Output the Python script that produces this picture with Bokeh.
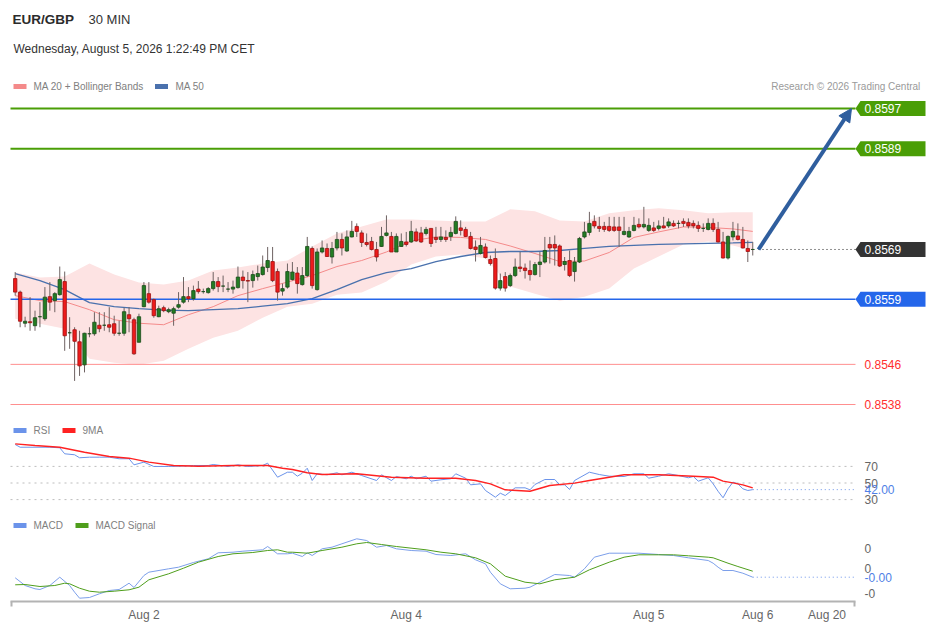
from bokeh.plotting import figure
from bokeh.models import Range1d, FixedTicker, Label, Arrow, NormalHead, ColumnDataSource
from bokeh.core.properties import value
from bokeh.embed import file_html
from bokeh.resources import INLINE

FONT = "Liberation Sans"

# ---------------- texts ----------------
symbol = "EUR/GBP"
timeframe = "30 MIN"
timestamp = "Wednesday, August 5, 2026 1:22:49 PM CET"
credit = "Research \u00a9 2026 Trading Central"

# ---------------- candles (30 min) ----------------
opens = [0.85631,0.85604,0.85542,0.85545,0.85537,0.85555,0.85551,0.85595,0.85587,0.85599,
         0.85625,0.85523,0.85529,0.85505,0.85459,0.85521,0.85521,0.85538,0.85538,0.85539,
         0.85541,0.85522,0.85522,0.85559,0.85549,0.85504,0.85575,0.85601,0.85589,0.85555,
         0.85573,0.85565,0.85562,0.85574,0.85584,0.85595,0.85591,0.85610,0.85605,0.85603,
         0.85611,0.85625,0.85616,0.85610,0.85610,0.85613,0.85634,0.85627,0.85627,0.85635,
         0.85639,0.85653,0.85665,0.85645,0.85606,0.85614,0.85629,0.85642,0.85619,0.85637,
         0.85691,0.85609,0.85684,0.85691,0.85674,0.85692,0.85709,0.85686,0.85714,0.85735,
         0.85722,0.85703,0.85705,0.85689,0.85695,0.85717,0.85715,0.85684,0.85695,0.85704,
         0.85704,0.85724,0.85722,0.85721,0.85731,0.85713,0.85709,0.85713,0.85715,0.85721,
         0.85732,0.85729,0.85715,0.85694,0.85681,0.85694,0.85669,0.85671,0.85612,0.85635,
         0.85617,0.85637,0.85654,0.85652,0.85647,0.85639,0.85659,0.85664,0.85699,0.85699,
         0.85696,0.85659,0.85667,0.85645,0.85664,0.85714,0.85723,0.85745,0.85735,0.85735,
         0.85735,0.85734,0.85734,0.85719,0.85714,0.85727,0.85739,0.85734,0.85727,0.85732,
         0.85731,0.85736,0.85736,0.85741,0.85741,0.85745,0.85743,0.85741,0.85737,0.85731,
         0.85729,0.85741,0.85729,0.85704,0.85672,0.85714,0.85716,0.85709,0.85691,0.85689]
highs = [0.85644,0.85607,0.85555,0.85594,0.85567,0.85584,0.85614,0.85624,0.85604,0.85655,
         0.85645,0.85554,0.85534,0.85527,0.85523,0.85534,0.85564,0.85564,0.85564,0.85574,
         0.85557,0.85547,0.85573,0.85574,0.85553,0.85561,0.85624,0.85624,0.85591,0.85577,
         0.85577,0.85573,0.85575,0.85604,0.85634,0.85614,0.85617,0.85626,0.85611,0.85614,
         0.85644,0.85634,0.85637,0.85624,0.85627,0.85655,0.85647,0.85644,0.85647,0.85657,
         0.85677,0.85694,0.85694,0.85651,0.85621,0.85661,0.85664,0.85654,0.85654,0.85714,
         0.85695,0.85691,0.85707,0.85701,0.85704,0.85724,0.85721,0.85727,0.85746,0.85741,
         0.85727,0.85721,0.85714,0.85704,0.85734,0.85757,0.85724,0.85721,0.85721,0.85724,
         0.85746,0.85731,0.85734,0.85734,0.85731,0.85734,0.85734,0.85727,0.85734,0.85755,
         0.85747,0.85734,0.85724,0.85707,0.85714,0.85701,0.85677,0.85691,0.85641,0.85644,
         0.85641,0.85671,0.85684,0.85661,0.85667,0.85664,0.85684,0.85714,0.85714,0.85717,
         0.85699,0.85674,0.85687,0.85674,0.85714,0.85744,0.85764,0.85757,0.85754,0.85744,
         0.85754,0.85754,0.85754,0.85754,0.85734,0.85754,0.85751,0.85774,0.85751,0.85744,
         0.85747,0.85754,0.85751,0.85747,0.85747,0.85751,0.85751,0.85747,0.85745,0.85741,
         0.85751,0.85751,0.85744,0.85724,0.85717,0.85744,0.85741,0.85734,0.85707,0.85704]
lows = [0.85597,0.85534,0.85534,0.85527,0.85527,0.85534,0.85547,0.85567,0.85564,0.85597,
        0.85487,0.85491,0.85427,0.85437,0.85444,0.85514,0.85517,0.85524,0.85527,0.85524,
        0.85517,0.85517,0.85517,0.85524,0.85479,0.85504,0.85574,0.85581,0.85553,0.85554,
        0.85564,0.85562,0.85537,0.85571,0.85581,0.85584,0.85587,0.85601,0.85601,0.85601,
        0.85607,0.85604,0.85604,0.85604,0.85601,0.85611,0.85611,0.85584,0.85613,0.85627,
        0.85637,0.85644,0.85624,0.85587,0.85597,0.85611,0.85627,0.85601,0.85617,0.85634,
        0.85611,0.85607,0.85681,0.85674,0.85661,0.85687,0.85677,0.85684,0.85713,0.85714,
        0.85694,0.85695,0.85687,0.85665,0.85694,0.85715,0.85684,0.85684,0.85694,0.85695,
        0.85702,0.85704,0.85702,0.85717,0.85694,0.85702,0.85704,0.85704,0.85706,0.85719,
        0.85717,0.85714,0.85689,0.85665,0.85679,0.85671,0.85657,0.85609,0.85607,0.85605,
        0.85614,0.85634,0.85644,0.85631,0.85627,0.85637,0.85634,0.85661,0.85661,0.85657,
        0.85654,0.85647,0.85634,0.85625,0.85662,0.85711,0.85717,0.85731,0.85724,0.85724,
        0.85724,0.85724,0.85694,0.85717,0.85712,0.85725,0.85731,0.85731,0.85724,0.85724,
        0.85727,0.85731,0.85732,0.85734,0.85731,0.85734,0.85731,0.85731,0.85724,0.85724,
        0.85727,0.85724,0.85703,0.85671,0.85669,0.85707,0.85707,0.85691,0.85664,0.85677]
closes = [0.85604,0.85546,0.85546,0.85543,0.85553,0.85555,0.85594,0.85584,0.85601,0.85629,
          0.85517,0.85523,0.85506,0.85457,0.85522,0.85521,0.85544,0.85531,0.85538,0.85534,
          0.85522,0.85522,0.85565,0.85551,0.85481,0.85555,0.85617,0.85584,0.85557,0.85571,
          0.85567,0.85569,0.85571,0.85579,0.85595,0.85591,0.85607,0.85605,0.85605,0.85611,
          0.85625,0.85615,0.85616,0.85610,0.85614,0.85634,0.85627,0.85626,0.85639,0.85641,
          0.85654,0.85667,0.85627,0.85604,0.85611,0.85645,0.85644,0.85621,0.85637,0.85695,
          0.85617,0.85684,0.85692,0.85675,0.85691,0.85709,0.85692,0.85714,0.85725,0.85725,
          0.85703,0.85699,0.85689,0.85674,0.85715,0.85722,0.85684,0.85715,0.85705,0.85699,
          0.85725,0.85706,0.85704,0.85729,0.85701,0.85709,0.85714,0.85709,0.85723,0.85745,
          0.85727,0.85715,0.85691,0.85689,0.85697,0.85673,0.85661,0.85612,0.85627,0.85612,
          0.85637,0.85654,0.85651,0.85647,0.85639,0.85659,0.85664,0.85687,0.85692,0.85692,
          0.85656,0.85665,0.85637,0.85664,0.85711,0.85724,0.85741,0.85736,0.85731,0.85729,
          0.85727,0.85727,0.85727,0.85725,0.85725,0.85737,0.85734,0.85739,0.85737,0.85727,
          0.85736,0.85732,0.85744,0.85736,0.85741,0.85741,0.85736,0.85736,0.85731,0.85731,
          0.85741,0.85729,0.85704,0.85672,0.85715,0.85725,0.85709,0.85692,0.85685,0.85689]

# ---------------- overlays (read every 5th candle) ----------------
ind_idx = [0, 5, 10, 15, 20, 25, 30, 35, 40, 45, 50, 55, 60, 65, 70, 75, 80, 85, 90, 95,
           100, 105, 110, 115, 120, 125, 130, 135, 140, 145, 149]
ma20 = [0.85597,0.85587,0.85585,0.85569,0.85549,0.85542,0.85539,0.85559,0.85575,0.85597,
        0.85611,0.85624,0.85637,0.85655,0.85667,0.85684,0.85706,0.85714,0.85713,0.85709,
        0.85696,0.85681,0.85665,0.85666,0.85683,0.85713,0.85724,0.85734,0.85733,0.85730,0.85725]
bb_upper = [0.85643,0.85633,0.85635,0.85661,0.85639,0.85623,0.85619,0.85627,0.85647,0.85653,
            0.85661,0.85667,0.85695,0.85721,0.85735,0.85749,0.85749,0.85747,0.85745,0.85745,
            0.85769,0.85765,0.85747,0.85745,0.85761,0.85767,0.85771,0.85767,0.85761,0.85763,0.85763]
bb_lower = [0.85551,0.85541,0.85531,0.85471,0.85463,0.85459,0.85467,0.85491,0.85513,0.85527,
            0.85553,0.85575,0.85581,0.85599,0.85603,0.85625,0.85659,0.85675,0.85679,0.85671,
            0.85615,0.85601,0.85587,0.85595,0.85611,0.85651,0.85675,0.85699,0.85705,0.85697,0.85687]
ma50 = [0.85641,0.85627,0.85609,0.85583,0.85575,0.85571,0.85568,0.85567,0.85569,0.85571,
        0.85576,0.85581,0.85591,0.85609,0.85629,0.85643,0.85651,0.85665,0.85675,0.85683,
        0.85685,0.85685,0.85687,0.85691,0.85695,0.85697,0.85699,0.85700,0.85701,0.85702,0.85703]

# ---------------- RSI ----------------
rsi_idx = [0,1,4,7,9,10,12,13,15,17,19,21,23,24,26,28,31,33,36,39,40,43,45,47,50,51,53,55,56,57,
           58,59,60,61,63,65,66,68,70,73,74,76,77,79,80,81,83,84,86,88,89,91,92,94,95,97,98,99,
           101,103,104,105,107,109,110,111,112,113,116,118,120,123,125,127,128,130,132,134,136,
           137,138,140,141,142,143,144,145,146,147,148,149]
rsi_vals = [96.4,93.1,93.1,93.1,92.4,85.2,84.0,80.4,81.1,81.1,81.1,79.2,79.2,71.9,75.1,69.9,69.9,
            70.2,71.1,71.1,72.3,69.9,71.9,69.9,71.1,73.9,57.0,63.0,63.0,58.2,61.8,67.8,53.0,61.1,
            59.9,62.3,59.9,63.0,59.0,53.0,59.9,53.0,57.8,55.1,58.2,55.1,58.2,52.2,53.9,55.1,61.1,
            55.8,47.8,49.0,41.0,32.9,37.7,34.9,44.2,44.2,41.8,48.2,54.2,54.2,47.8,47.8,42.2,53.0,
            63.0,60.2,58.2,57.8,61.1,61.1,55.8,58.2,61.1,59.0,56.3,57.8,52.2,56.3,49.0,40.0,32.2,
            43.0,51.0,49.0,43.0,41.0,42.0]
rsi_ma_idx = [0,4,9,14,19,23,27,32,37,44,51,54,56,59,62,69,76,83,89,93,96,99,104,108,113,116,
              120,123,130,137,141,143,145,147,149]
rsi_ma_vals = [97.2,95.2,93.1,87.1,81.9,79.9,75.1,71.1,70.2,71.1,71.1,67.8,66.3,62.3,60.2,61.1,
               57.0,55.8,55.8,53.0,49.0,41.8,40.1,47.0,49.8,53.0,57.0,59.9,59.9,58.2,57.0,52.2,
               50.2,47.8,44.2]
rsi_levels = [70, 50, 30]

# ---------------- MACD ----------------
macd_idx = [0,2,4,5,7,9,11,12,13,15,17,19,21,23,24,26,27,31,33,36,39,41,44,46,50,51,53,55,56,58,
            59,60,62,64,66,69,71,73,75,77,80,83,85,88,91,93,95,96,98,100,103,104,106,109,112,113,
            115,117,120,123,126,130,133,136,140,141,142,143,145,147,149]
macd_vals = [-0.000096,-0.000173,-0.000206,-0.000213,-0.000173,-0.000090,-0.000173,-0.000240,
             -0.000300,-0.000293,-0.000256,-0.000223,-0.000213,-0.000150,-0.000193,-0.000073,
             -0.000040,-0.000006,0.000010,0.000057,0.000094,0.000154,0.000160,0.000170,0.000184,
             0.000217,0.000144,0.000144,0.000150,0.000117,0.000154,0.000127,0.000194,0.000210,
             0.000244,0.000294,0.000277,0.000210,0.000227,0.000194,0.000177,0.000170,0.000137,
             0.000127,0.000144,0.000084,0.000044,-0.000040,-0.000156,-0.000206,-0.000200,-0.000190,
             -0.000140,-0.000063,-0.000073,-0.000090,-0.000006,0.000110,0.000150,0.000150,0.000150,
             0.000137,0.000127,0.000104,0.000077,0.000050,0.000010,-0.000023,-0.000023,-0.000050,
             -0.000090]
signal_idx = [0,2,5,8,10,11,13,15,17,20,23,25,27,31,34,37,41,44,48,51,53,55,56,59,62,66,69,71,
              74,77,83,86,89,93,96,99,103,106,109,113,116,120,123,126,130,133,136,140,141,144,146,149]
signal_vals = [-0.000166,-0.000163,-0.000183,-0.000173,-0.000150,-0.000156,-0.000200,-0.000230,
               -0.000240,-0.000230,-0.000216,-0.000190,-0.000116,-0.000056,0.000000,0.000060,
               0.000117,0.000144,0.000157,0.000177,0.000184,0.000160,0.000160,0.000150,0.000177,
               0.000210,0.000244,0.000257,0.000237,0.000217,0.000184,0.000160,0.000144,0.000104,
               0.000044,-0.000080,-0.000140,-0.000156,-0.000116,-0.000090,-0.000016,0.000060,
               0.000110,0.000134,0.000134,0.000134,0.000124,0.000110,0.000104,0.000050,0.000017,
               -0.000030]
macd_ticks = [0.0002, 0.0, -0.00025]
macd_tick_labels = ["0", "0", "-0"]

# ---------------- levels and axis ----------------
resistances = [0.8597, 0.8589]
pivot = 0.8559
supports = [0.8546, 0.8538]
tick_pos = [26, 79, 128, 150, 164]
tick_labels = ["Aug 2", "Aug 4", "Aug 5", "Aug 6", "Aug 20"]

# ---------------- colours ----------------
GREEN_LVL = "#4a9e06"
BLUE_LVL = "#2466ea"
DARK_TAG = "#333333"
RED_LINE = "#ff8f8f"
RED_TEXT = "#ff2e2e"
ARROW_C = "#2f5e9e"
BAND_C = "#fde3e3"
MA20_C = "#f48a8a"
MA50_C = "#4a71ad"
RSI_C = "#6b93ea"
RSI_MA_C = "#ff2222"
MACD_C = "#7c9fea"
SIG_C = "#4f9e1c"
UP_FILL, UP_LINE = "#237d23", "#1a4a1a"
DN_FILL, DN_LINE = "#ee1b1b", "#9a1212"
WICK_C = "#6e6262"
AXIS_C = "#b3b3b3"

# ---------------- layout calibration (page pixels -> data) ----------------
W, H = 927, 627
TOP, BOT, LEFT, RIGHT = 0, 601, 0, W            # page coords of the plotting frame
X_FIRST, X_STEP = 14.7, 4.95                    # first candle x, candle spacing (px)
def px(X):
    return (X - X_FIRST) / X_STEP
P_REF, Y_REF, PX_PER_UNIT = 0.8597, 108.0, 50170.0
def py(Y):
    return P_REF - (Y - Y_REF) / PX_PER_UNIT
def rsi_at(Y):
    return 50 + (482.5 - Y) / 0.83
def macd_at(Y):
    return (567.7 - Y) * 1e-5

p = figure(width=W, height=H, output_backend="svg", toolbar_location=None,
           x_range=Range1d(px(LEFT), px(RIGHT)), y_range=Range1d(py(BOT), py(TOP)),
           y_axis_location=None,
           min_border_left=0, min_border_right=0, min_border_top=0,
           min_border_bottom=H - (BOT - TOP),
           background_fill_color="white", border_fill_color="white",
           outline_line_color=None)
p.extra_y_ranges = {"rsi": Range1d(rsi_at(BOT), rsi_at(TOP)),
                    "macd": Range1d(macd_at(BOT), macd_at(TOP))}
p.xgrid.visible = False
p.ygrid.visible = False

LX0, LX1 = px(10), px(855)      # extent of the horizontal guide lines
TAG_TIP, TAG_L, TAG_R, TAG_TXT = px(855), px(860), px(925), px(864)

# ---------------- main panel ----------------
p.varea(x=ind_idx, y1=bb_lower, y2=bb_upper, fill_color=BAND_C)
p.line(ind_idx, ma20, line_color=MA20_C, line_width=1)
p.line(ind_idx, ma50, line_color=MA50_C, line_width=1.3)

p.segment(x0=LX0, x1=LX1, y0=resistances, y1=resistances, line_color=GREEN_LVL, line_width=2)
p.segment(x0=LX0, x1=LX1, y0=[pivot], y1=[pivot], line_color=BLUE_LVL, line_width=1.5)
p.segment(x0=LX0, x1=LX1, y0=supports, y1=supports, line_color=RED_LINE, line_width=1)

n = len(opens)
up = [c >= o for o, c in zip(opens, closes)]
src = ColumnDataSource(dict(
    x=list(range(n)), h=highs, l=lows,
    top=[max(o, c) for o, c in zip(opens, closes)],
    bot=[min(o, c) for o, c in zip(opens, closes)],
    fill=[UP_FILL if u else DN_FILL for u in up],
    edge=[UP_LINE if u else DN_LINE for u in up]))
p.segment(x0="x", y0="h", x1="x", y1="l", source=src, line_color=WICK_C, line_width=1)
p.vbar(x="x", top="top", bottom="bot", width=0.68, source=src,
       fill_color="fill", line_color="edge", line_width=0.8)

last = closes[-1]
p.segment(x0=[px(758)], x1=[LX1], y0=[last], y1=[last], line_color="#222222",
          line_width=1, line_dash="1 3")

p.add_layout(Arrow(end=NormalHead(size=13, fill_color=ARROW_C, line_color=ARROW_C),
                   x_start=px(758), y_start=last, x_end=px(851), y_end=resistances[0],
                   line_color=ARROW_C, line_width=4))

tag_levels = [resistances[0], resistances[1], last, pivot]
tag_colors = [GREEN_LVL, GREEN_LVL, DARK_TAG, BLUE_LVL]
hh = 7.5 / PX_PER_UNIT
p.patches(xs=[[TAG_TIP, TAG_L, TAG_R, TAG_R, TAG_L] for _ in tag_levels],
          ys=[[v, v + hh, v + hh, v - hh, v - hh] for v in tag_levels],
          fill_color=tag_colors, line_color=None)
p.text(x=[TAG_TXT] * len(tag_levels), y=tag_levels, text=[f"{v:.4f}" for v in tag_levels],
       text_color="white", text_font=value(FONT), text_font_size="12px",
       text_baseline="middle", text_align="left")
p.text(x=[TAG_TXT] * len(supports), y=supports, text=[f"{v:.4f}" for v in supports],
       text_color=RED_TEXT, text_font=value(FONT), text_font_size="12px",
       text_baseline="middle", text_align="left")

# ---------------- RSI panel ----------------
p.segment(x0=LX0, x1=LX1, y0=rsi_levels, y1=rsi_levels, y_range_name="rsi",
          line_color="#bdbdbd", line_width=1, line_dash="2 4")
p.line(rsi_idx, rsi_vals, y_range_name="rsi", line_color=RSI_C, line_width=1)
p.line(rsi_ma_idx, rsi_ma_vals, y_range_name="rsi", line_color=RSI_MA_C, line_width=1.4)
p.segment(x0=[rsi_idx[-1]], x1=[LX1], y0=[rsi_vals[-1]], y1=[rsi_vals[-1]], y_range_name="rsi",
          line_color=RSI_C, line_width=1, line_dash="1 3")
p.text(x=[px(864)] * len(rsi_levels), y=rsi_levels, text=[str(v) for v in rsi_levels],
       y_range_name="rsi", text_color="#666666", text_font=value(FONT), text_font_size="12px",
       text_baseline="middle")
p.text(x=[px(864)], y=[rsi_vals[-1]], text=[f"{rsi_vals[-1]:.2f}"], y_range_name="rsi",
       text_color="#4f7fe6", text_font=value(FONT), text_font_size="12px", text_baseline="middle")

# ---------------- MACD panel ----------------
p.line(macd_idx, macd_vals, y_range_name="macd", line_color=MACD_C, line_width=1)
p.line(signal_idx, signal_vals, y_range_name="macd", line_color=SIG_C, line_width=1)
p.segment(x0=[macd_idx[-1]], x1=[LX1], y0=[macd_vals[-1]], y1=[macd_vals[-1]], y_range_name="macd",
          line_color=RSI_C, line_width=1, line_dash="1 3")
p.text(x=[px(864)] * len(macd_ticks), y=macd_ticks, text=macd_tick_labels, y_range_name="macd",
       text_color="#666666", text_font=value(FONT), text_font_size="12px", text_baseline="middle")
p.text(x=[px(864)], y=[macd_vals[-1]], text=[f"{macd_vals[-1]:.2f}"], y_range_name="macd",
       text_color="#4f7fe6", text_font=value(FONT), text_font_size="12px", text_baseline="middle")

# ---------------- header and legends ----------------
def label(X, Y, text, size="12px", color="#333333", bold=False, align="left"):
    p.add_layout(Label(x=px(X), y=py(Y), text=text, text_font=FONT, text_font_size=size,
                       text_color=color, text_font_style="bold" if bold else "normal",
                       text_align=align, text_baseline="middle"))

label(12, 19, symbol, size="13.5px", color="#2b2b2b", bold=True)
label(88, 18.5, timeframe, size="13px", color="#333333")
label(13, 48, timestamp, size="12px", color="#333333")
label(920, 86, credit, size="10px", color="#9a9a9a", align="right")

legend_x = [19.5, 161, 19.5, 68.5, 19.5, 81.5]
legend_y = [86, 86, 430, 430, 525, 525]
legend_c = [MA20_C, MA50_C, RSI_C, RSI_MA_C, RSI_C, SIG_C]
legend_t = ["MA 20 + Bollinger Bands", "MA 50", "RSI", "9MA", "MACD", "MACD Signal"]
legend_tx = [33, 175, 33, 82, 33, 95]
p.rect(x=[px(v) for v in legend_x], y=[py(v) for v in legend_y], width=13, height=5,
       width_units="screen", height_units="screen", fill_color=legend_c, line_color=None)
for tx, ty, t in zip(legend_tx, legend_y, legend_t):
    label(tx, ty, t, size="10px", color="#808080")

# ---------------- x axis ----------------
ax = p.xaxis[0]
ax.ticker = FixedTicker(ticks=tick_pos, minor_ticks=[px(10.6), px(854.4)])
ax.major_label_overrides = dict(zip(tick_pos, tick_labels))
ax.bounds = (LX0, LX1)
ax.axis_line_color = AXIS_C
ax.axis_line_width = 2
ax.major_tick_line_color = None
ax.major_tick_out = 0
ax.major_tick_in = 0
ax.minor_tick_line_color = AXIS_C
ax.minor_tick_line_width = 2
ax.minor_tick_out = 5
ax.minor_tick_in = 0
ax.major_label_standoff = 1
ax.major_label_text_font = FONT
ax.major_label_text_font_size = "12px"
ax.major_label_text_color = "#666666"

with open("out.html", "w") as f:
    f.write(file_html(p, INLINE, "EUR/GBP"))
